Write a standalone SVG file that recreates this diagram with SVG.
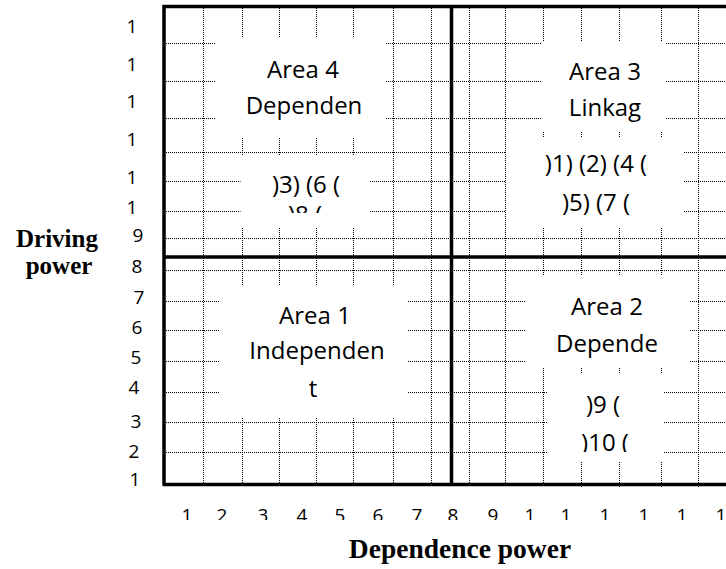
<svg xmlns="http://www.w3.org/2000/svg" width="726" height="569" viewBox="0 0 726 569">
<style>
.dot{stroke:#000;stroke-width:1;stroke-dasharray:1 1;fill:none}
.thick{stroke:#000;stroke-width:3.5;fill:none}
.mask{fill:#fff;stroke:none}
.lbl{font-family:"Open Sans","Liberation Sans",sans-serif;font-size:19px;fill:#000;text-anchor:middle}
.area{font-family:"Open Sans","Liberation Sans",sans-serif;font-size:24px;fill:#000;text-anchor:middle}
.title{font-family:"Liberation Serif","Times New Roman",serif;font-weight:bold;font-size:25px;fill:#000;text-anchor:middle}
</style>
<defs>
<clipPath id="clipA4"><rect x="240" y="155" width="130" height="58"/></clipPath>
<clipPath id="clipA2"><rect x="547" y="373" width="116" height="79"/></clipPath>
<clipPath id="clipX"><rect x="160" y="495" width="566" height="25"/></clipPath>
</defs>
<rect width="726" height="569" fill="#fff"/>
<g id="grid">
<path class="dot" d="M203.5 8V485M242.5 8V485M279.5 8V485M316.5 8V485M353.5 8V485M393.5 8V485M431.5 8V485M469.5 8V485M505.5 8V485M543.5 8V485M581.5 8V488M619.5 8V488M661.5 8V488M698.5 8V488"/>
<path class="dot" d="M166 43.5H726M166 81.5H726M166 118.5H726M166 152.5H726M166 181.5H726M166 211.5H726M166 238.5H726M166 270.5H726M166 301.5H726M166 330.5H726M166 361.5H726M166 392.5H726M166 422.5H726M166 452.5H726"/>
</g>
<g id="frame">
<path class="thick" d="M164 484.5V6.5H726M162.5 484.5H726M164 257H726M451.5 6.5V486"/>
</g>
<g id="area4">
<rect class="mask" x="216" y="37" width="169" height="100"/>
<rect class="mask" x="240.5" y="155" width="129.5" height="72"/>
<text class="area" x="303" y="78">Area 4</text>
<text class="area" x="304" y="114">Dependen</text>
<text class="area" x="306" y="193">)3) (6 (</text>
<text class="area" x="305" y="223" clip-path="url(#clipA4)">)8 (</text>
</g>
<g id="area3">
<rect class="mask" x="542" y="41" width="123" height="90"/>
<rect class="mask" x="506" y="137" width="178" height="90"/>
<text class="area" x="605" y="80">Area 3</text>
<text class="area" x="605" y="116">Linkag</text>
<text class="area" x="596" y="172">)1) (2) (4 (</text>
<text class="area" x="596" y="211">)5) (7 (</text>
</g>
<g id="area1">
<rect class="mask" x="219" y="285" width="189" height="132"/>
<text class="area" x="315" y="324">Area 1</text>
<text class="area" x="317" y="359">Independen</text>
<text class="area" x="313" y="397">t</text>
</g>
<g id="area2">
<rect class="mask" x="526" y="275" width="164" height="92"/>
<rect class="mask" x="547" y="373" width="116" height="89"/>
<text class="area" x="607" y="315">Area 2</text>
<text class="area" x="607" y="352">Depende</text>
<text class="area" x="603" y="413">)9 (</text>
<text class="area" x="605" y="451" clip-path="url(#clipA2)">)10 (</text>
</g>
<g id="y-axis">
<text class="lbl" x="132" y="33">1</text>
<text class="lbl" x="132" y="71">1</text>
<text class="lbl" x="132" y="108">1</text>
<text class="lbl" x="132" y="146">1</text>
<text class="lbl" x="132" y="184">1</text>
<text class="lbl" x="132" y="214">1</text>
<text class="lbl" x="138" y="242">9</text>
<text class="lbl" x="137" y="273">8</text>
<text class="lbl" x="139" y="304">7</text>
<text class="lbl" x="137" y="334">6</text>
<text class="lbl" x="136" y="364">5</text>
<text class="lbl" x="134" y="394">4</text>
<text class="lbl" x="136" y="428">3</text>
<text class="lbl" x="134" y="458">2</text>
<text class="lbl" x="135" y="486">1</text>
<text class="title" x="57" y="247">Driving</text>
<text class="title" x="59" y="274">power</text>
</g>
<g id="x-axis">
<g clip-path="url(#clipX)">
<text class="lbl" x="187" y="522">1</text>
<text class="lbl" x="222" y="522">2</text>
<text class="lbl" x="263" y="522">3</text>
<text class="lbl" x="302" y="522">4</text>
<text class="lbl" x="340" y="522">5</text>
<text class="lbl" x="378" y="522">6</text>
<text class="lbl" x="417" y="522">7</text>
<text class="lbl" x="453" y="522">8</text>
<text class="lbl" x="493" y="522">9</text>
<text class="lbl" x="530" y="522">1</text>
<text class="lbl" x="566" y="522">1</text>
<text class="lbl" x="605" y="522">1</text>
<text class="lbl" x="644" y="522">1</text>
<text class="lbl" x="682" y="522">1</text>
<text class="lbl" x="721" y="522">1</text>
</g>
<text class="title" x="460" y="558" style="font-size:27.5px">Dependence power</text>
</g>
</svg>
